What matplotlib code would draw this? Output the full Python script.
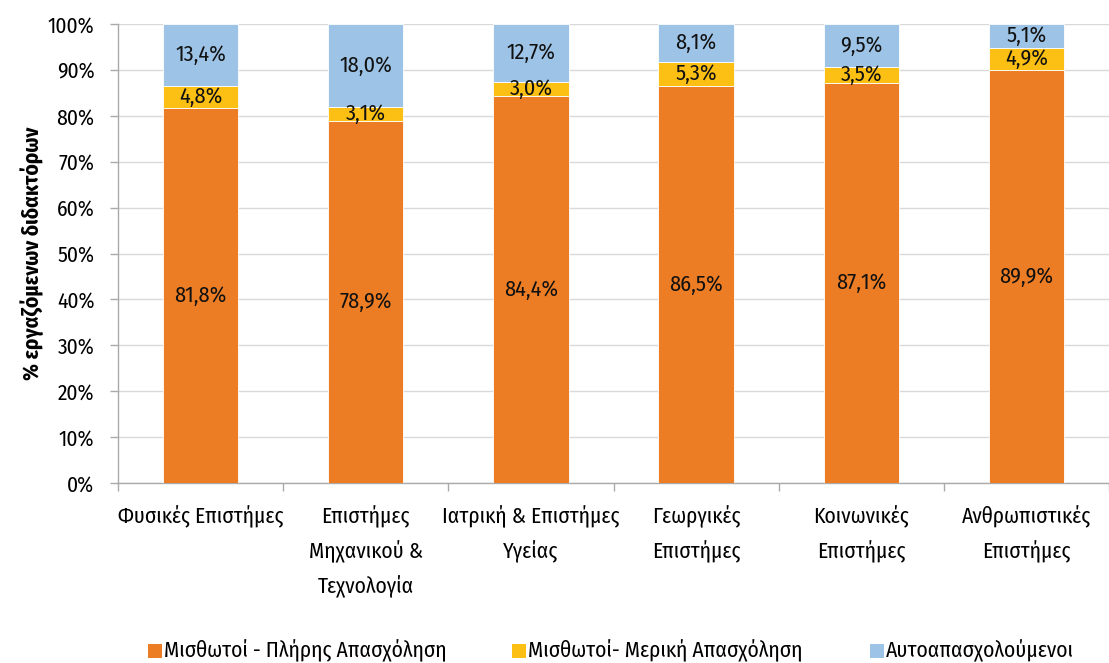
import matplotlib
matplotlib.use("Agg")
import matplotlib.pyplot as plt
import numpy as np
from matplotlib.patches import Rectangle

categories = ["Φυσικές Επιστήμες", "Επιστήμες\nΜηχανικού &\nΤεχνολογία",
              "Ιατρική & Επιστήμες\nΥγείας", "Γεωργικές\nΕπιστήμες",
              "Κοινωνικές\nΕπιστήμες", "Ανθρωπιστικές\nΕπιστήμες"]
full_time = [81.8, 78.9, 84.4, 86.5, 87.1, 89.9]
part_time = [4.8, 3.1, 3.0, 5.3, 3.5, 4.9]
self_employed = [13.4, 18.0, 12.7, 8.1, 9.5, 5.1]
series_names = ["Μισθωτοί - Πλήρης Απασχόληση", "Μισθωτοί- Μερική Απασχόληση", "Αυτοαπασχολούμενοι"]
colors = ["#ED7D24", "#FCBF13", "#9DC3E6"]
yticks = [0, 10, 20, 30, 40, 50, 60, 70, 80, 90, 100]

plt.rcParams['font.family'] = ['Fira Sans Condensed', 'Roboto Condensed', 'Asap Condensed', 'DejaVu Sans']

fig = plt.figure(figsize=(11.09, 6.63), dpi=100)
ax = fig.add_axes([118/1109, 180/663, 991/1109, 459/663])

x = np.arange(len(categories))
w = 0.457
bottom = np.zeros(len(categories))
for vals, col in zip([full_time, part_time, self_employed], colors):
    vals = np.array(vals)
    ax.bar(x, vals, w, bottom=bottom, color=col, edgecolor='white', linewidth=0.6, zorder=3)
    for xi, b, v in zip(x, bottom, vals):
        ax.text(xi, b + v / 2, f"{v:.1f}%".replace('.', ','), ha='center', va='center',
                fontsize=16, color='#111111', zorder=4)
    bottom = bottom + vals

ax.set_xlim(-0.5, 5.457)
ax.set_ylim(0, 100)
ax.set_yticks(yticks)
ax.set_yticklabels([f"{t}%" for t in yticks], fontsize=15.5)
ax.set_xticks(x)
ax.set_xticklabels(categories, fontsize=15.5, va='top', linespacing=1.7)
ax.tick_params(axis='x', which='major', length=0, pad=16)
ax.set_xticks(np.arange(-0.5, 5.6, 1), minor=True)
ax.tick_params(axis='x', which='minor', length=6, color='#aaaaaa', width=1)
ax.tick_params(axis='y', length=6, color='#aaaaaa', width=1, pad=11)
ax.grid(axis='y', color='#d9d9d9', linewidth=1, zorder=0)
for s in ['top', 'right']:
    ax.spines[s].set_visible(False)
for s in ['left', 'bottom']:
    ax.spines[s].set_color('#aaaaaa')
    ax.spines[s].set_linewidth(1)

ax.set_ylabel("% εργαζόμενων διδακτόρων", fontsize=15.5, fontweight='bold', labelpad=3)

# legend (manually placed entries)
W, H = 1109, 663
leg_x = [148, 512, 870]
sq = 14
yc = 651
for lx, name, col in zip(leg_x, series_names, colors):
    fig.patches.append(Rectangle((lx / W, (H - yc - sq / 2) / H), sq / W, sq / H,
                                 transform=fig.transFigure, facecolor=col, edgecolor='none'))
    fig.text((lx + sq + 2) / W, (H - yc) / H, name, fontsize=15.5, va='center', ha='left')

fig.savefig("out.png", dpi=100)
